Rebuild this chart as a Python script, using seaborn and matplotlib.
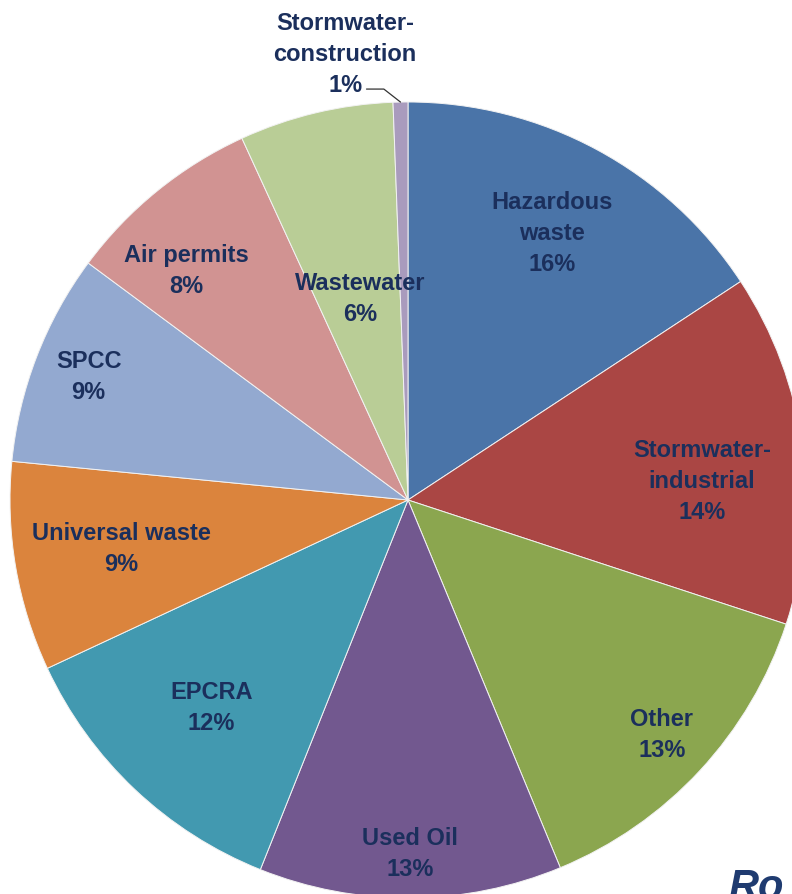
import numpy as np
import matplotlib.pyplot as plt
import seaborn as sns

# compliance areas, clockwise from 12 o'clock
categories = ["Hazardous\nwaste", "Stormwater-\nindustrial", "Other", "Used Oil",
              "EPCRA", "Universal waste", "SPCC", "Air permits", "Wastewater",
              "Stormwater-\nconstruction"]
shares = [15.75, 14.3, 13.7, 12.3, 12.0, 8.5, 8.6, 8.0, 6.25, 0.6]
pct_labels = ["16%", "14%", "13%", "13%", "12%", "9%", "9%", "8%", "6%", "1%"]
colors = ["#4A74A8", "#AA4644", "#8BA64F", "#72588F", "#4299B0",
          "#DB843D", "#93A9D0", "#D19392", "#B9CD96", "#A99BBD"]

# label placement: distance from centre (fraction of radius), angle nudge (deg)
label_r = [0.76, 0.74, 0.87, 0.89, 0.72, 0.73, 0.86, 0.80, 0.52, None]
label_dth = [0, -4, 0, 0, 0, 0, 0, 5, 0, 0]

sns.set_theme(style="white")
plt.rcParams["font.family"] = ["Liberation Sans", "DejaVu Sans"]

W, H = 792, 894
cx, cy, R = 408, 500, 398
fig = plt.figure(figsize=(W / 100, H / 100), dpi=100)
ax = fig.add_axes([(cx - R) / W, (H - cy - R) / H, 2 * R / W, 2 * R / H])

wedges, _ = ax.pie(shares, colors=sns.color_palette(colors), startangle=90,
                   counterclock=False, radius=1,
                   wedgeprops=dict(edgecolor="#f2f2f2", linewidth=0.7))
ax.set_xlim(-1, 1)
ax.set_ylim(-1, 1)
ax.axis("off")

txt_color = "#1B2F5C"
font = dict(fontsize=17, fontweight="bold", color=txt_color, linespacing=1.45)
for w, name, pct, rf, dth in zip(wedges, categories, pct_labels, label_r, label_dth):
    if rf is None:
        continue
    th = np.radians((w.theta1 + w.theta2) / 2 + dth)
    ax.text(rf * np.cos(th), rf * np.sin(th), f"{name}\n{pct}",
            ha="center", va="center", **font)

# small slice: label outside with a leader line
w = wedges[-1]
th = np.radians((w.theta1 + w.theta2) / 2)
rim = (np.cos(th), np.sin(th))
ax.text(-0.158, 1.12, f"{categories[-1]}\n{pct_labels[-1]}", ha="center",
        va="center", clip_on=False, **font)
ax.annotate("", xy=rim, xytext=(-34, 13), textcoords="offset pixels",
            arrowprops=dict(arrowstyle="-", color="#333333", lw=0.9,
                            connectionstyle="angle,angleA=0,angleB=142,rad=0",
                            shrinkA=0, shrinkB=0),
            annotation_clip=False)

fig.text(728 / W, 1 - 868 / H, "Ro", ha="left", va="top", fontsize=30,
         fontweight="bold", fontstyle="italic", color="#1F3B70")

fig.savefig("out.png", dpi=100)
